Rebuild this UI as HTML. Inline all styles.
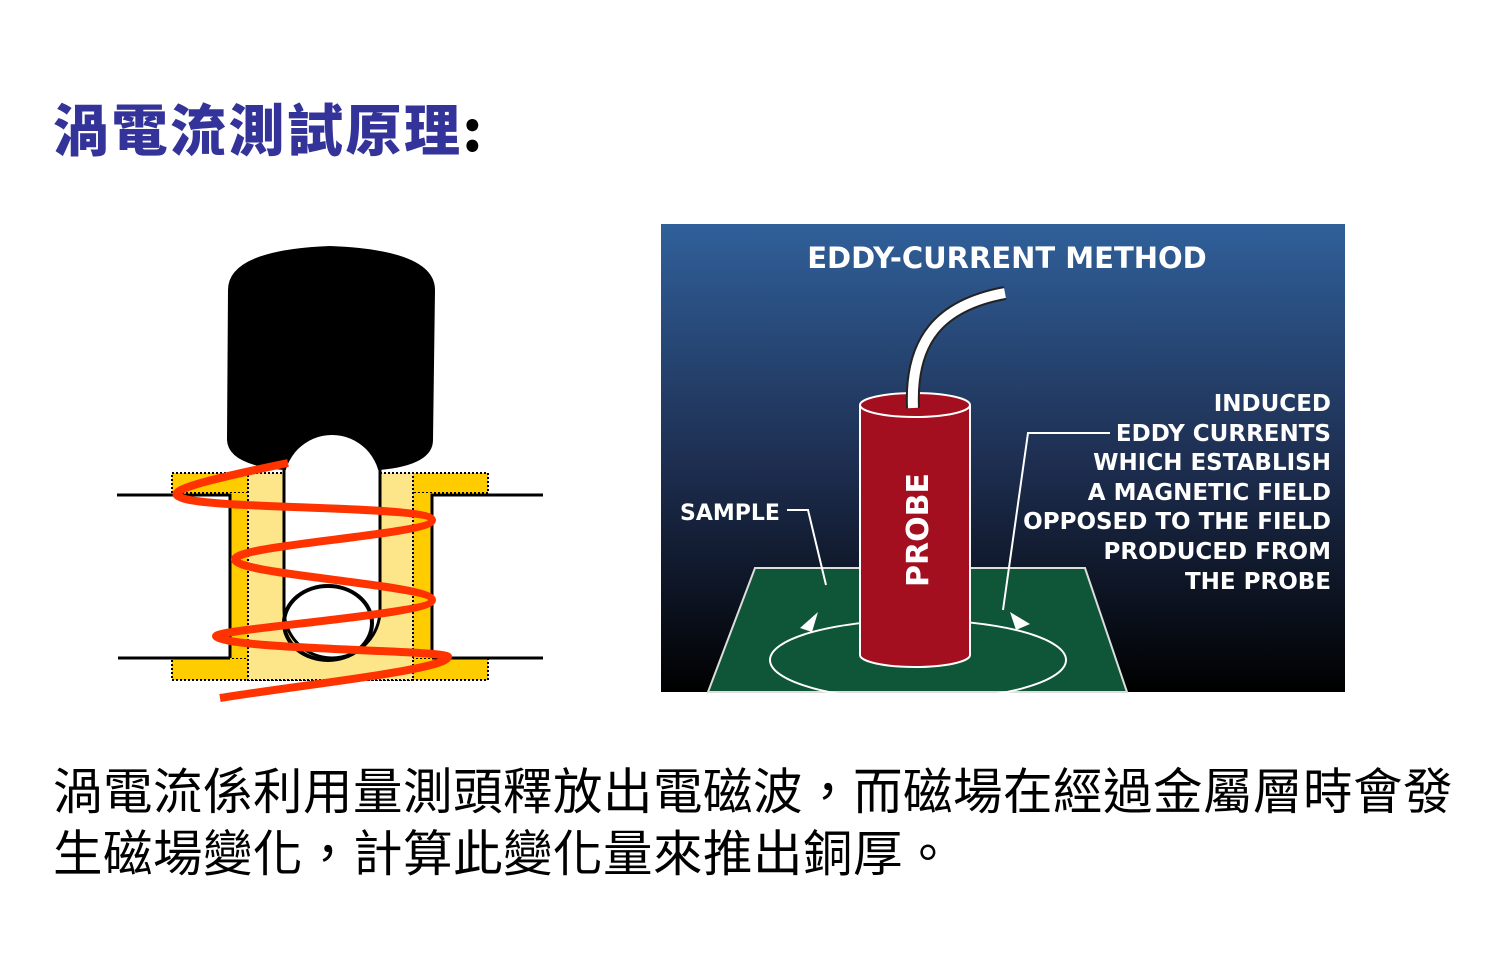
<!DOCTYPE html>
<html><head><meta charset="utf-8"><style>
html,body{margin:0;padding:0;background:#fff;width:1500px;height:960px;overflow:hidden}
.t{position:absolute;left:53px;top:87px;font:900 56px "Noto Sans CJK TC","WenQuanYi Zen Hei",sans-serif;color:#333399;letter-spacing:2.5px;white-space:nowrap}
.t span{color:#000}
.b{position:absolute;left:53px;top:762px;font:400 49.5px "Liberation Sans","Noto Sans CJK TC",sans-serif;color:#000;line-height:62px;white-space:nowrap;letter-spacing:0.5px}
svg{position:absolute;left:0;top:0}
.w{font-family:"DejaVu Sans","Liberation Sans",sans-serif;font-weight:bold;fill:#fff}
</style></head><body>
<div class="t">渦電流測試原理<span>:</span></div>
<svg width="1500" height="960">
<defs><linearGradient id="g" x1="0" y1="0" x2="0" y2="1">
<stop offset="0" stop-color="#30609a"/><stop offset="0.5" stop-color="#1e2f52"/><stop offset="1" stop-color="#000"/></linearGradient></defs>
<!-- left diagram -->
<path d="M228,290 Q228,250 330,246 Q435,250 435,290 L433,440 Q433,465 380,470 L284,470 Q228,465 227,440 Z" fill="#000"/>
<rect x="172" y="473" width="316" height="20" fill="#ffcc00" stroke="#000" stroke-width="2" stroke-dasharray="2,2"/>
<rect x="172" y="658" width="316" height="22" fill="#ffcc00" stroke="#000" stroke-width="2" stroke-dasharray="2,2"/>
<rect x="230" y="493" width="18" height="165" fill="#ffcc00"/>
<rect x="413" y="493" width="19" height="165" fill="#ffcc00"/>
<rect x="248" y="473" width="165" height="207" fill="#fde58a" stroke="#000" stroke-width="2" stroke-dasharray="2,2"/>
<path d="M284,610 L284,483 A48,48 0 0 1 380,483 L380,610 A48,48 0 0 1 284,610 Z" fill="#fff"/>
<path d="M284,470 L284,610 A48,48 0 0 0 380,610 L380,470" fill="none" stroke="#000" stroke-width="3"/>
<path d="M117,495 H230 V658 M118,658 H230 M543,495 H432 V658 M543,658 H432" fill="none" stroke="#000" stroke-width="3"/>
<ellipse cx="328" cy="623" rx="44" ry="37" fill="none" stroke="#000" stroke-width="4"/>
<path d="M288,463 C230,475 160,490 180,497 C200,510 430,505 432,520 C432,535 230,545 235,560 C240,575 432,585 432,600 C432,615 200,630 217,637 C235,650 450,650 448,657 C445,670 300,685 220,698" fill="none" stroke="#ff3300" stroke-width="8"/>
<!-- right panel -->
<rect x="661" y="224" width="684" height="468" fill="url(#g)"/>
<polygon points="755,568 1085,568 1127,692 708,692" fill="#0f5538" stroke="#ddd" stroke-width="2"/>
<ellipse cx="918" cy="660" rx="148" ry="40" fill="none" stroke="#fff" stroke-width="2"/>
<ellipse cx="915" cy="655" rx="55" ry="12" fill="#a30f1e" stroke="#fff" stroke-width="2"/>
<rect x="860" y="405" width="110" height="250" fill="#a30f1e"/>
<line x1="860" y1="405" x2="860" y2="655" stroke="#fff" stroke-width="2"/>
<line x1="970" y1="405" x2="970" y2="655" stroke="#fff" stroke-width="2"/>
<ellipse cx="915" cy="405" rx="55" ry="12" fill="#a30f1e" stroke="#fff" stroke-width="2"/>
<path d="M913,408 C910,340 940,305 1005,293" fill="none" stroke="#222" stroke-width="14"/>
<path d="M913,408 C910,340 940,305 1005,293" fill="none" stroke="#fff" stroke-width="10"/>
<path d="M787,510 H808 L826,585 M1110,433 H1028 L1003,610" fill="none" stroke="#fff" stroke-width="2"/>
<polygon points="800,628 818,612 812,632" fill="#fff"/>
<polygon points="1030,624 1010,612 1016,630" fill="#fff"/>
<text x="1007" y="268" class="w" font-size="29" text-anchor="middle">EDDY-CURRENT METHOD</text>
<text x="680" y="520" class="w" font-size="22">SAMPLE</text>
<text transform="translate(928,530) rotate(-90)" class="w" font-size="30" text-anchor="middle">PROBE</text>
<g class="w" font-size="23" text-anchor="end">
<text x="1331" y="411">INDUCED</text>
<text x="1331" y="441">EDDY CURRENTS</text>
<text x="1331" y="470">WHICH ESTABLISH</text>
<text x="1331" y="500">A MAGNETIC FIELD</text>
<text x="1331" y="529">OPPOSED TO THE FIELD</text>
<text x="1331" y="559">PRODUCED FROM</text>
<text x="1331" y="589">THE PROBE</text>
</g>
</svg>
<div class="b">渦電流係利用量測頭釋放出電磁波，而磁場在經過金屬層時會發<br>生磁場變化，計算此變化量來推出銅厚。</div>
</body></html>
